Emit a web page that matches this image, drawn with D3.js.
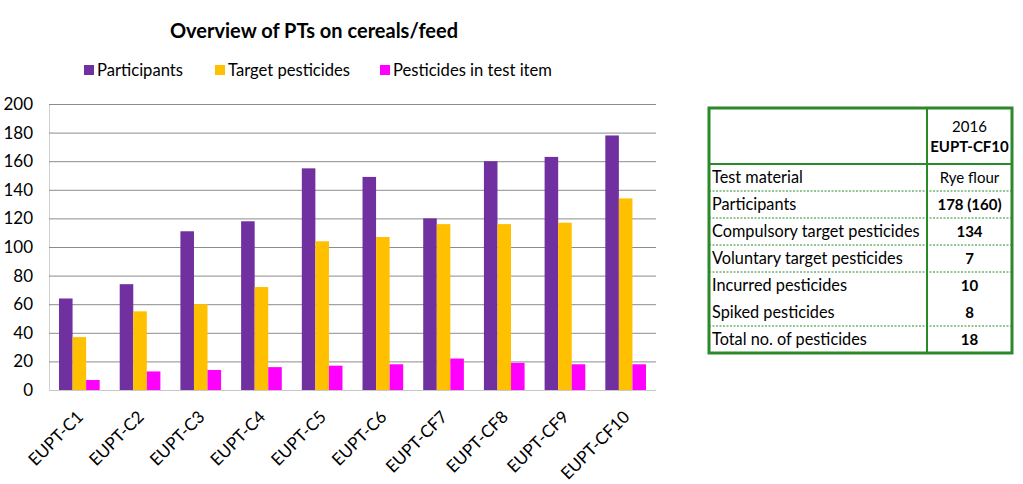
<!DOCTYPE html>
<html><head><meta charset="utf-8">
<script src="https://cdn.jsdelivr.net/npm/d3@7"></script>
<style>
body{margin:0;background:#fff;}
svg{display:block;font-family:Lato,"Open Sans",sans-serif;}
</style></head>
<body><svg id="c" width="1023" height="484"></svg>
<script>
const categories = ["EUPT-C1","EUPT-C2","EUPT-C3","EUPT-C4","EUPT-C5","EUPT-C6","EUPT-CF7","EUPT-CF8","EUPT-CF9","EUPT-CF10"];
const seriesNames = ["Participants","Target pesticides","Pesticides in test item"];
const participants = [64,74,111,118,155,149,120,160,163,178];
const targetPesticides = [37,55,60,72,104,107,116,116,117,134];
const pesticidesInTestItem = [7,13,14,16,17,18,22,19,18,18];
const seriesColors = ["#7030A0","#FFC000","#FF00FF"];
const yTicks = [0,20,40,60,80,100,120,140,160,180,200];
const tableHeader = ["2016","EUPT-CF10"];
const tableLabels = ["Test material","Participants","Compulsory target pesticides","Voluntary target pesticides","Incurred pesticides","Spiked pesticides","Total no. of pesticides"];
const tableValues = ["Rye flour","178 (160)","134","7","10","8","18"];

const svg = d3.select("#c");
const L=49, R=656, T=104, B=390;
const series = [participants,targetPesticides,pesticidesInTestItem];

const x0 = d3.scaleBand().domain(categories).range([L,R]).paddingInner(0.33).paddingOuter(0.165);
const x1 = d3.scaleBand().domain(seriesNames).range([0,x0.bandwidth()]);
const y = d3.scaleLinear().domain([0,200]).range([B,T]);

// gridlines
const gy = svg.append("g").attr("transform",`translate(${L},0)`)
  .call(d3.axisLeft(y).tickValues(yTicks).tickSize(-(R-L)).tickPadding(16));
gy.select(".domain").attr("stroke","#d0d0d0");
gy.selectAll(".tick line").attr("stroke",d=>d===0?"#c8c8c8":"#8c8c8c").attr("stroke-width",1);
gy.selectAll(".tick text").attr("font-size",17).attr("fill","#000").attr("font-family","Lato");

// bars
const g = svg.append("g");
categories.forEach((c,i)=>{
  seriesNames.forEach((s,j)=>{
    g.append("rect")
     .attr("x",x0(c)+x1(s)).attr("width",x1.bandwidth())
     .attr("y",y(series[j][i])).attr("height",B-y(series[j][i]))
     .attr("fill",seriesColors[j]);
  });
});

// x axis labels
const gx = svg.append("g").attr("transform",`translate(0,${B})`)
  .call(d3.axisBottom(x0).tickSize(0));
gx.select(".domain").remove();
gx.selectAll(".tick text").attr("font-size",17).attr("fill","#000").attr("font-family","Lato")
  .attr("text-anchor","end").attr("dy",null).attr("y",null)
  .attr("transform","translate(5,28) rotate(-45)");

// title
svg.append("text").attr("x",314).attr("y",38).attr("text-anchor","middle")
  .attr("font-size",20).attr("font-weight","bold").text("Overview of PTs on cereals/feed");

// legend
const legX = [84,215,380];
seriesNames.forEach((s,j)=>{
  svg.append("rect").attr("x",legX[j]).attr("y",65).attr("width",10).attr("height",10).attr("fill",seriesColors[j]);
  svg.append("text").attr("x",legX[j]+13).attr("y",76).attr("font-size",16.6).text(s);
});

// table
const tL=709, tR=1012, tC=927, tT=108, tH=164;
const rowH = (353-164)/7;
const green="#2A8A2A";
const tg = svg.append("g");
tableLabels.forEach((lab,i)=>{
  const cy = tH + rowH*(i+0.5);
  tg.append("text").attr("x",tL+3).attr("y",cy+5.5).attr("font-size",16.3).text(lab);
  tg.append("text").attr("x",(tC+tR)/2).attr("y",cy+5.5).attr("text-anchor","middle")
    .attr("font-size",15).attr("font-weight",i===0?"normal":"bold").text(tableValues[i]);
  if(i<tableLabels.length-1 && i!==4){
    tg.append("line").attr("x1",tL).attr("x2",tR).attr("y1",tH+rowH*(i+1)).attr("y2",tH+rowH*(i+1))
      .attr("stroke",green).attr("stroke-width",1).attr("stroke-dasharray","2,1.5");
  }
});
tg.append("text").attr("x",(tC+tR)/2).attr("y",132).attr("text-anchor","middle").attr("font-size",15).text(tableHeader[0]);
tg.append("text").attr("x",(tC+tR)/2).attr("y",152).attr("text-anchor","middle").attr("font-size",15).attr("font-weight","bold").text(tableHeader[1]);
tg.append("line").attr("x1",tL).attr("x2",tR).attr("y1",tH).attr("y2",tH).attr("stroke",green).attr("stroke-width",2);
tg.append("line").attr("x1",tC).attr("x2",tC).attr("y1",tT).attr("y2",353).attr("stroke",green).attr("stroke-width",2);
tg.append("rect").attr("x",tL).attr("y",tT).attr("width",tR-tL).attr("height",353-tT)
  .attr("fill","none").attr("stroke",green).attr("stroke-width",3);
</script></body></html>
